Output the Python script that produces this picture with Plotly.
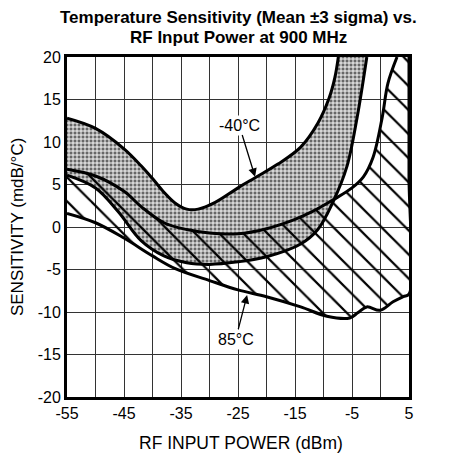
import plotly.graph_objects as go

# RF input power (dBm) and temperature sensitivity (mdB/°C) boundaries
x_m40_hi = [-55, -50, -45, -42, -40, -38, -36, -34, -32, -29, -25, -22, -18, -14, -11, -9, -8, -7.4]
y_m40_hi = [12.8, 11.6, 9.2, 7.2, 5.7, 4.1, 2.8, 2.1, 2.1, 2.9, 4.6, 5.8, 7.4, 9.4, 12.2, 15.2, 17.6, 20]

x_m40_lo = [-55, -50, -46, -42, -38, -34, -30, -25, -20, -14, -11, -8.3, -5.9, -4.1, -3.2, -2.4]
y_m40_lo = [6.1, 4.6, 1.8, -1.6, -3.4, -4.2, -4.4, -4.1, -3.5, -2.0, -0.3, 3.0, 7.1, 12.9, 16.5, 20]

x_85_hi = [-55, -50, -45, -42, -38, -34, -30, -25, -20, -15, -12, -8.3, -5, -3, -1.3, 0.3, 1.3, 2.9]
y_85_hi = [6.8, 6.0, 4.2, 2.4, 0.5, -0.3, -0.7, -0.8, -0.2, 0.9, 1.8, 3.2, 4.6, 5.9, 8.2, 12.9, 16.9, 20]

x_85_lo = [-55, -50, -45, -40, -36, -30, -25, -20, -14, -9.4, -5.4, -4, -2.4, -0.1, 2.2, 4, 5, 5, 5]
y_85_lo = [1.6, 0.5, -1.3, -3.4, -4.9, -6.3, -7.4, -8.2, -9.4, -10.5, -10.7, -10.1, -9.4, -9.8, -8.8, -8.2, -7.9, 6, 20]

x_ticks = [-55, -50, -45, -40, -35, -30, -25, -20, -15, -10, -5, 0, 5]
x_ticktext = ["-55", "", "-45", "", "-35", "", "-25", "", "-15", "", "-5", "", "5"]
y_ticks = [-20, -15, -10, -5, 0, 5, 10, 15, 20]
y_ticktext = ["-20", "-15", "-10", "-5", "0", "5", "10", "15", "20"]

FONT = "Arial, Liberation Sans, sans-serif"
LINE = dict(color="black", width=3, shape="spline", smoothing=1.0)

fig = go.Figure()

# -40°C band: dotted fill between upper and lower limits
fig.add_trace(go.Scatter(x=x_m40_hi, y=y_m40_hi, mode="lines", line=LINE, showlegend=False))
fig.add_trace(go.Scatter(
    x=x_m40_lo, y=y_m40_lo, mode="lines", line=LINE, fill="tonexty",
    fillcolor="rgba(0,0,0,0)",
    fillpattern=dict(shape="+", size=4, solidity=0.42, fgcolor="white", bgcolor="#666666",
                     fgopacity=1),
    showlegend=False))

# 85°C band: diagonal hatch between upper and lower limits
fig.add_trace(go.Scatter(x=x_85_hi, y=y_85_hi, mode="lines", line=LINE, showlegend=False))
fig.add_trace(go.Scatter(
    x=x_85_lo, y=y_85_lo, mode="lines", line=LINE, fill="tonexty",
    fillcolor="rgba(0,0,0,0)",
    fillpattern=dict(shape="\\", size=17, solidity=0.13, fgcolor="black",
                     bgcolor="rgba(0,0,0,0)", fgopacity=1),
    showlegend=False))

annotations = [
    dict(text="<b>Temperature Sensitivity (Mean ±3 sigma) vs.</b>", xref="paper", yref="paper",
         x=0.5, y=1.117, xanchor="center", yanchor="middle", showarrow=False,
         font=dict(family=FONT, size=17, color="black")),
    dict(text="<b>RF Input Power at 900 MHz</b>", xref="paper", yref="paper",
         x=0.5, y=1.058, xanchor="center", yanchor="middle", showarrow=False,
         font=dict(family=FONT, size=17, color="black")),
    dict(text="RF INPUT POWER (dBm)", xref="paper", yref="paper",
         x=0.51, y=-0.135, xanchor="center", yanchor="middle", showarrow=False,
         font=dict(family=FONT, size=17.5, color="black")),
    dict(text="SENSITIVITY (mdB/°C)", xref="paper", yref="paper", textangle=-90,
         x=-0.146, y=0.5, xanchor="center", yanchor="middle", showarrow=False,
         font=dict(family=FONT, size=17, color="black")),
    dict(text="-40°C", x=-22.0, y=5.9, ax=-24.8, ay=12.0, xref="x", yref="y",
         axref="x", ayref="y", showarrow=True, arrowhead=2, arrowsize=1.3,
         arrowwidth=1.3, arrowcolor="black", bgcolor="white",
         font=dict(family=FONT, size=16, color="black")),
    dict(text="85°C", x=-23.4, y=-8.0, ax=-25.4, ay=-13.2, xref="x", yref="y",
         axref="x", ayref="y", showarrow=True, arrowhead=2, arrowsize=1.3,
         arrowwidth=1.3, arrowcolor="black", bgcolor="white",
         font=dict(family=FONT, size=16, color="black")),
]

fig.update_layout(
    width=465, height=455,
    margin=dict(l=67, r=56, t=57, b=58),
    paper_bgcolor="white", plot_bgcolor="white",
    annotations=annotations,
    font=dict(family=FONT, size=16, color="black"),
)
fig.update_xaxes(range=[-55, 5], tickvals=x_ticks, ticktext=x_ticktext,
                 showgrid=True, gridcolor="#333333", gridwidth=1, zeroline=False,
                 showline=True, mirror=True, linecolor="black", linewidth=3,
                 ticks="", tickfont=dict(family=FONT, size=16, color="black"))
fig.update_yaxes(range=[-20, 20], tickvals=y_ticks, ticktext=y_ticktext,
                 showgrid=True, gridcolor="#333333", gridwidth=1, zeroline=False,
                 showline=True, mirror=True, linecolor="black", linewidth=3,
                 ticks="", tickfont=dict(family=FONT, size=16, color="black"))

fig.write_html("out.html")
